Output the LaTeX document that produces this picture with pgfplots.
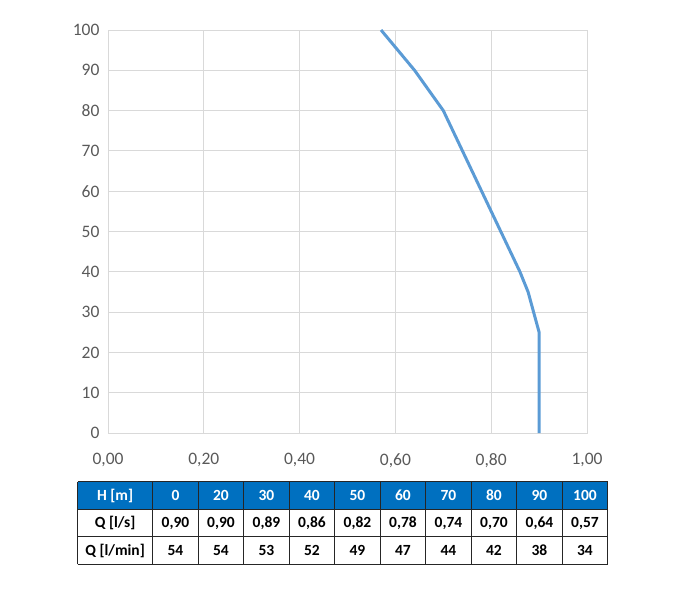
\documentclass[border=0pt]{standalone}
\usepackage{pgfplots}
\pgfplotsset{compat=1.18}
\usepackage{fontspec}
\setmainfont{Carlito}
\definecolor{gridc}{HTML}{D9D9D9}
\definecolor{tickc}{HTML}{595959}
\definecolor{linec}{HTML}{5B9BD5}
\definecolor{hdr}{HTML}{0070C0}
\begin{document}
\begin{tikzpicture}[x=1pt,y=1pt]
\useasboundingbox (0,0) rectangle (687,600);
\begin{axis}[at={(108pt,167pt)}, anchor=south west,
  width=479pt, height=403pt, scale only axis,
  xmin=0, xmax=1, ymin=0, ymax=100,
  xtick={0,0.2,0.4,0.6,0.8,1}, ytick={0,10,20,30,40,50,60,70,80,90,100},
  grid=major, major grid style={gridc, line width=0.8pt},
  axis line style={gridc, line width=0.8pt},
  tick style={draw=none},
  /pgf/number format/assume math mode=true,
  ticklabel style={font=\fontsize{17.5}{19}\selectfont, text=tickc},
  xticklabel style={/pgf/number format/fixed, /pgf/number format/fixed zerofill, /pgf/number format/precision=2, /pgf/number format/use comma, yshift=-17pt},
  yticklabel style={xshift=-5pt},
]
\addplot[linec, line width=3pt, line join=round] coordinates {
(0.90,0) (0.90,25) (0.877,35) (0.86,40) (0.82,50) (0.78,60) (0.74,70) (0.70,80) (0.64,90) (0.57,100)
};
\end{axis}
% table
\fill[hdr] (77.5,90.7) rectangle (607.7,118.3);
\foreach \yy in {118.3,90.7,63.3,35.7} \draw[line width=1pt, black!85] (77.5,\yy) -- (607.7,\yy);
\draw[line width=1pt, black!85] (77.5,35.7) -- (77.5,118.3);
\foreach \k in {0,...,10} \draw[line width=1pt, black!85] ({152.7+45.5*\k},35.7) -- ({152.7+45.5*\k},118.3);
\node[font=\fontsize{15.5}{17}\selectfont\bfseries, text=white] at (115.1,104.5) {H [m]};
\node[font=\fontsize{15.5}{17}\selectfont\bfseries] at (115.1,77) {Q [l/s]};
\node[font=\fontsize{15.5}{17}\selectfont\bfseries] at (115.1,49.5) {Q [l/min]};
\foreach \h/\a/\b [count=\k from 0] in {0/{0,90}/54, 20/{0,90}/54, 30/{0,89}/53, 40/{0,86}/52, 50/{0,82}/49, 60/{0,78}/47, 70/{0,74}/44, 80/{0,70}/42, 90/{0,64}/38, 100/{0,57}/34} {
  \node[font=\fontsize{15.5}{17}\selectfont\bfseries, text=white] at ({175.45+45.5*\k},104.5) {\h};
  \node[font=\fontsize{15.5}{17}\selectfont\bfseries] at ({175.45+45.5*\k},77) {\a};
  \node[font=\fontsize{15.5}{17}\selectfont\bfseries] at ({175.45+45.5*\k},49.5) {\b};
}
\end{tikzpicture}
\end{document}
